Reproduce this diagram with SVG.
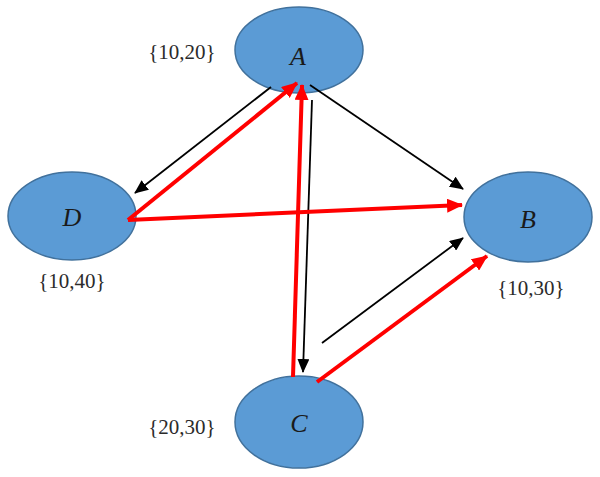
<svg xmlns="http://www.w3.org/2000/svg" width="600" height="477" viewBox="0 0 600 477">
<style>
.node{fill:#5B9BD5;stroke:#41719C;stroke-width:1.5}
.lbl{font-family:"Liberation Serif","DejaVu Serif",serif;font-style:italic;font-size:26px;fill:#1a1a1a;text-anchor:middle}
.set{font-family:"Liberation Serif","DejaVu Serif",serif;font-size:21px;fill:#2b2b2b;text-anchor:middle}
.blk{stroke:#000;stroke-width:1.8;fill:none;marker-end:url(#ab)}
.red{stroke:#FF0000;stroke-width:4;fill:none;marker-end:url(#ar)}
</style>
<defs>
<marker id="ab" markerUnits="userSpaceOnUse" markerWidth="14" markerHeight="12" refX="13" refY="6" orient="auto"><path d="M0,0 L14,6 L0,12 Z" fill="#000"/></marker>
<marker id="ar" markerUnits="userSpaceOnUse" markerWidth="16" markerHeight="14" refX="15" refY="7" orient="auto"><path d="M0,0 L16,7 L0,14 Z" fill="#FF0000"/></marker>
</defs>
<rect width="600" height="477" fill="#fff"/>
<g id="A"><ellipse class="node" cx="299" cy="50" rx="64" ry="43"/><text class="lbl" x="298" y="65">A</text><text class="set" x="182" y="59">{10,20}</text></g>
<g id="D"><ellipse class="node" cx="72" cy="216" rx="64" ry="44"/><text class="lbl" x="72" y="226">D</text><text class="set" x="72" y="288">{10,40}</text></g>
<g id="B"><ellipse class="node" cx="528" cy="217" rx="64" ry="45"/><text class="lbl" x="528" y="228">B</text><text class="set" x="531" y="295">{10,30}</text></g>
<g id="C"><ellipse class="node" cx="299" cy="422" rx="64" ry="46"/><text class="lbl" x="299" y="432">C</text><text class="set" x="182" y="434">{20,30}</text></g>
<g id="connectors">
<line class="blk" x1="271" y1="87" x2="135" y2="193"/>
<line class="blk" x1="310" y1="85" x2="463" y2="189"/>
<line class="blk" x1="312" y1="100" x2="303" y2="372"/>
<line class="blk" x1="322" y1="343" x2="463" y2="238"/>
<line class="red" x1="128" y1="220" x2="297" y2="83"/>
<line class="red" x1="128" y1="220" x2="462" y2="205"/>
<line class="red" x1="293" y1="377" x2="302" y2="85"/>
<line class="red" x1="317" y1="382" x2="487" y2="256"/>
</g>
</svg>
